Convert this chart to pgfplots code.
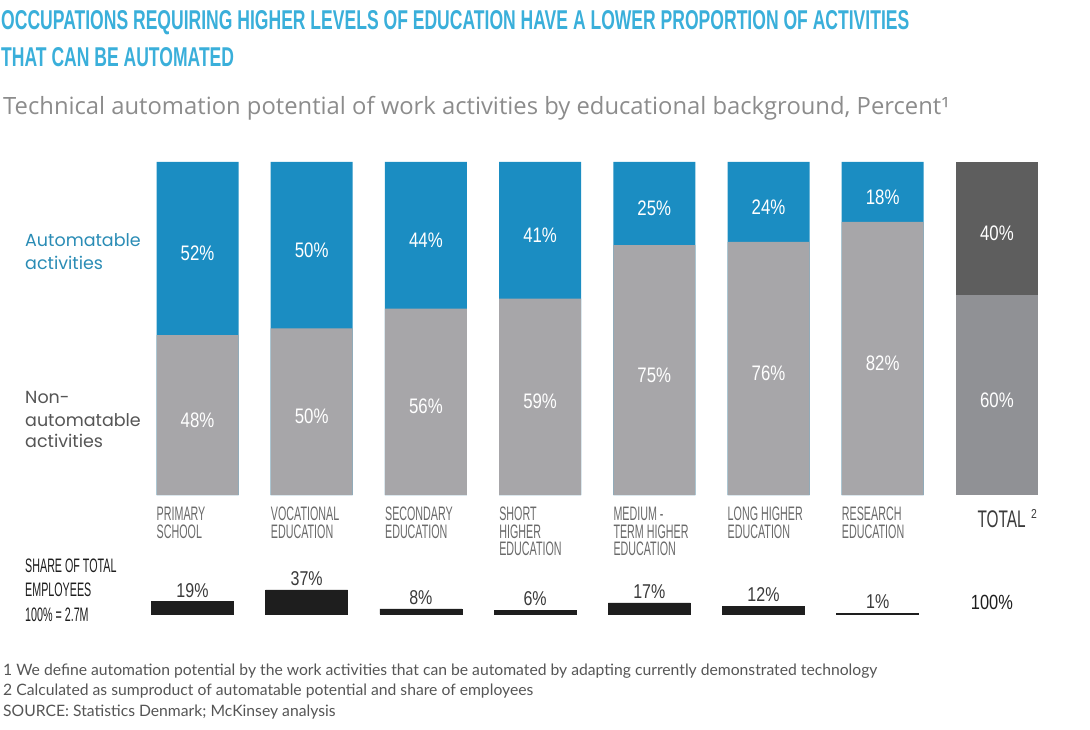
\documentclass[border=0pt]{standalone}
\usepackage{pgfplots}
\usepackage{pgfplotstable}
\pgfplotsset{compat=1.18}
\usepackage{fontspec}
\setmainfont{Lato}
\newfontfamily\subfont{Open Sans}
\newfontfamily\titlefont[FakeStretch=0.645]{Liberation Sans}
\newfontfamily\condfont[FakeStretch=0.55]{Liberation Sans}
\newfontfamily\numfont[FakeStretch=0.8]{Liberation Sans}
\newfontfamily\sidefont{Poppins}

\definecolor{autoblue}{HTML}{1B8DC2}
\definecolor{nongray}{HTML}{A7A6A9}
\definecolor{totdark}{HTML}{5E5E5E}
\definecolor{totgray}{HTML}{909195}
\definecolor{titleblue}{HTML}{3AAFDA}
\definecolor{subgray}{HTML}{8C8C8C}
\definecolor{catgray}{HTML}{6A6A6A}
\definecolor{sideblue}{HTML}{2A8CB5}
\definecolor{sidegray}{HTML}{555555}
\definecolor{barblack}{HTML}{1E1E1E}
\definecolor{lblgray}{HTML}{3A3A3A}
\definecolor{footgray}{HTML}{555555}

\pgfplotstableread{
x non auto
0 48 52
1 50 50
2 56 44
3 59 41
4 75 25
5 76 24
6 82 18
}\edu
\pgfplotstableread{
x non auto
7 60 40
}\tot
\pgfplotstableread{
x share
0 19
1 37
2 8
3 6
4 17
5 12
6 1
}\share

\begin{document}
\begin{tikzpicture}[x=1pt,y=1pt]
\path[use as bounding box] (0,0) rectangle (1090,729);

% titles
\node[anchor=base west, inner sep=0pt, text=titleblue, font=\titlefont\bfseries\fontsize{27.2}{30}\selectfont] at (1,699.5) {OCCUPATIONS REQUIRING HIGHER LEVELS OF EDUCATION HAVE A LOWER PROPORTION OF ACTIVITIES};
\node[anchor=base west, inner sep=0pt, text=titleblue, font=\titlefont\bfseries\fontsize{27.2}{30}\selectfont] at (1,662.3) {THAT CAN BE AUTOMATED};
\node[anchor=base west, inner sep=0pt, text=subgray, font=\subfont\fontsize{23.8}{26}\selectfont] at (3,614) {Technical automation potential of work activities by educational background, Percent¹};

% side labels
\node[anchor=base west, inner sep=0pt, text=sideblue, font=\sidefont\fontsize{17.5}{22}\selectfont] at (25,482.3) {Automatable};
\node[anchor=base west, inner sep=0pt, text=sideblue, font=\sidefont\fontsize{17.5}{22}\selectfont] at (25,459.7) {activities};
\node[anchor=base west, inner sep=0pt, text=sidegray, font=\sidefont\fontsize{17.5}{22}\selectfont] at (25,325) {Non-};
\node[anchor=base west, inner sep=0pt, text=sidegray, font=\sidefont\fontsize{17.5}{22}\selectfont] at (25,302.5) {automatable};
\node[anchor=base west, inner sep=0pt, text=sidegray, font=\sidefont\fontsize{17.5}{22}\selectfont] at (25,281) {activities};

% share label
\node[anchor=base west, inner sep=0pt, text=barblack, font=\condfont\fontsize{19.5}{20}\selectfont] at (25,157) {SHARE OF TOTAL};
\node[anchor=base west, inner sep=0pt, text=barblack, font=\condfont\fontsize{19.5}{20}\selectfont] at (25,133) {EMPLOYEES};
\node[anchor=base west, inner sep=0pt, text=barblack, font=\condfont\fontsize{19.5}{20}\selectfont] at (25,108) {100\% = 2.7M};

% footnotes
\node[anchor=base west, inner sep=0pt, text=footgray, font=\fontsize{15.7}{18}\selectfont] at (3,54) {1 We define automation potential by the work activities that can be automated by adapting currently demonstrated technology};
\node[anchor=base west, inner sep=0pt, text=footgray, font=\fontsize{15.7}{18}\selectfont] at (3,34) {2 Calculated as sumproduct of automatable potential and share of employees};
\node[anchor=base west, inner sep=0pt, text=footgray, font=\fontsize{15.7}{18}\selectfont] at (3,13) {SOURCE: Statistics Denmark; McKinsey analysis};

% main bars
\begin{axis}[
  at={(140.4pt,234pt)}, anchor=south west,
  scale only axis, width=913.6pt, height=333pt,
  xmin=-0.5, xmax=7.5, ymin=0, ymax=100,
  axis line style={draw=none}, major tick length=0pt,
  ytick=\empty, xtick={0,...,6},
  xticklabels={{PRIMARY\\SCHOOL},{VOCATIONAL\\EDUCATION},{SECONDARY\\EDUCATION},{SHORT\\HIGHER\\EDUCATION},{MEDIUM -\\TERM HIGHER\\EDUCATION},{LONG HIGHER\\EDUCATION},{RESEARCH\\EDUCATION}},
  xticklabel style={anchor=north west, xshift=-41pt, yshift=-12pt, align=left, inner sep=0pt, font=\condfont\fontsize{19.5}{17.5}\selectfont, text=catgray},
  clip=false,
  every node near coord/.append style={anchor=center, yshift=-5pt, inner sep=0pt, font=\numfont\fontsize{21}{21}\selectfont, text=white},
]
\addplot[ybar, bar width=82pt, bar shift=0pt, fill=autoblue, draw=none] table[x=x, y expr=\thisrow{non}+\thisrow{auto}] {\edu};
\addplot[ybar, bar width=82pt, bar shift=0pt, fill=nongray, draw=none] table[x=x, y=non] {\edu};
\addplot[ybar, bar width=82pt, bar shift=0pt, fill=totdark, draw=none] table[x=x, y expr=\thisrow{non}+\thisrow{auto}] {\tot};
\addplot[ybar, bar width=82pt, bar shift=0pt, fill=totgray, draw=none] table[x=x, y=non] {\tot};
% value labels
\addplot[draw=none, mark=none, point meta={\thisrow{non}}, nodes near coords={\pgfmathprintnumber[assume math mode=true]{\pgfplotspointmeta}\%}] table[x=x, y expr=\thisrow{non}/2] {\edu};
\addplot[draw=none, mark=none, point meta={\thisrow{auto}}, nodes near coords={\pgfmathprintnumber[assume math mode=true]{\pgfplotspointmeta}\%}] table[x=x, y expr=\thisrow{non}+\thisrow{auto}/2] {\edu};
\addplot[draw=none, mark=none, point meta={\thisrow{non}}, nodes near coords={\pgfmathprintnumber[assume math mode=true]{\pgfplotspointmeta}\%}] table[x=x, y expr=\thisrow{non}/2] {\tot};
\addplot[draw=none, mark=none, point meta={\thisrow{auto}}, nodes near coords={\pgfmathprintnumber[assume math mode=true]{\pgfplotspointmeta}\%}] table[x=x, y expr=\thisrow{non}+\thisrow{auto}/2] {\tot};
\node[anchor=base west, inner sep=0pt, text=lblgray, font=\numfont\fontsize{24}{24}\selectfont, xscale=0.8] at (axis cs:6.5,0) [yshift=-32.7pt, xshift=47pt] {TOTAL};
\node[anchor=base west, inner sep=0pt, text=lblgray, font=\numfont\fontsize{13}{13}\selectfont] at (axis cs:6.5,0) [yshift=-23pt, xshift=91pt] {2};
\end{axis}

% share of employees
\begin{axis}[
  at={(135.4pt,115pt)}, anchor=south west,
  scale only axis, width=913.6pt, height=65pt,
  xmin=-0.5, xmax=7.5, ymin=0, ymax=100,
  hide axis, clip=false,
]
\addplot[ybar, bar width=82pt, bar shift=0pt, fill=barblack, draw=barblack, line width=0.6pt,
  point meta=y,
  nodes near coords={\pgfmathprintnumber[assume math mode=true]{\pgfplotspointmeta}\%},
  every node near coord/.append style={anchor=base, inner sep=0pt, yshift=4.5pt, font=\numfont\fontsize{20}{20}\selectfont, text=lblgray}]
  table[x=x, y=share] {\share};
\node[anchor=base, inner sep=0pt, text=barblack, font=\numfont\fontsize{20.5}{20.5}\selectfont] at (axis cs:7,0) [yshift=5pt] {100\%};
\end{axis}
\end{tikzpicture}
\end{document}
